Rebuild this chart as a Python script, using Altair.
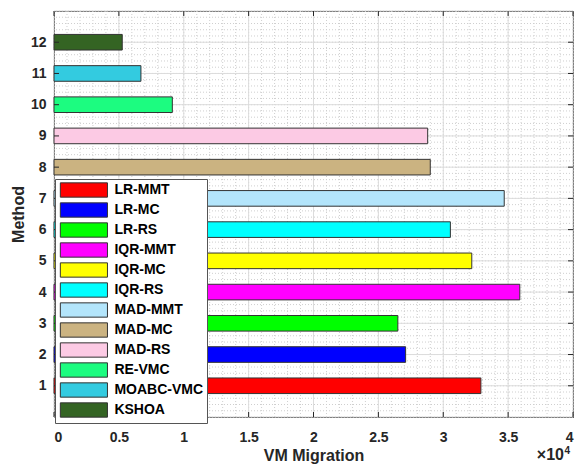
import altair as alt
import pandas as pd

# ---------------- data ----------------
methods = [1, 2, 3, 4, 5, 6, 7, 8, 9, 10, 11, 12]
names = ["LR-MMT", "LR-MC", "LR-RS", "IQR-MMT", "IQR-MC", "IQR-RS",
         "MAD-MMT", "MAD-MC", "MAD-RS", "RE-VMC", "MOABC-VMC", "KSHOA"]
values = [32900, 27100, 26500, 35900, 32200, 30550,
          34700, 29000, 28800, 9120, 6700, 5260]
colors = ["#ff0000", "#0000ff", "#00ff00", "#ff00ff", "#ffff00", "#00ffff",
          "#b3e5fb", "#cbb381", "#fccae4", "#1cfc80", "#33cbe0", "#346423"]

x_major = [0, 5000, 10000, 15000, 20000, 25000, 30000, 35000, 40000]
y_major = [0, 1, 2, 3, 4, 5, 6, 7, 8, 9, 10, 11, 12, 13]
x_minor = [i * 1000 for i in range(41)]
y_minor = [round(i * 0.2, 1) for i in range(66)]

df = pd.DataFrame({"method": methods, "name": names, "value": values})

# ---------------- style ----------------
W, H = 519, 406
FONT = "Liberation Sans"
INK = "#262626"

xscale = alt.Scale(domain=[0, 40000], nice=False, zero=True)
yscale = alt.Scale(domain=[0, 13], nice=False, zero=True)

X_AXIS = alt.Axis(
    values=x_major, labelExpr="datum.value / 10000",
    title="VM Migration", grid=False, ticks=False, tickSize=0, domain=False,
    labelFont=FONT, labelFontSize=14, labelFontWeight="bold", labelColor=INK,
    labelPadding=13, titleFont=FONT, titleFontSize=16, titleFontWeight="bold",
    titleColor=INK, titleBaseline="alphabetic", titleY=43)
Y_AXIS = alt.Axis(
    values=methods, format="d", title="Method", grid=False, ticks=False,
    tickSize=0, domain=False, labelFont=FONT, labelFontSize=14,
    labelFontWeight="bold", labelColor=INK, labelPadding=8,
    titleFont=FONT, titleFontSize=16, titleFontWeight="bold",
    titleColor=INK, titleBaseline="alphabetic", titleX=-31)


def X(field):
    return alt.X(field, scale=xscale, axis=X_AXIS)


def Y(field):
    return alt.Y(field, scale=yscale, axis=Y_AXIS)


minor_x = alt.Chart(pd.DataFrame({"v": x_minor})).mark_rule(
    color="#cfcfcf", strokeDash=[1, 2], strokeWidth=1
).encode(x=X("v:Q"))

minor_y = alt.Chart(pd.DataFrame({"v": y_minor})).mark_rule(
    color="#cfcfcf", strokeDash=[1, 2], strokeWidth=1
).encode(y=Y("v:Q"))

major_x = alt.Chart(pd.DataFrame({"v": x_major})).mark_rule(
    color="#dcdcdc", strokeWidth=1
).encode(x=X("v:Q"))

major_y = alt.Chart(pd.DataFrame({"v": y_major})).mark_rule(
    color="#dcdcdc", strokeWidth=1
).encode(y=Y("v:Q"))

bars = alt.Chart(df).transform_calculate(
    y0="datum.method - 0.25", y1="datum.method + 0.25", x0="0"
).mark_bar(stroke="#333333", strokeWidth=1, opacity=1).encode(
    x=X("value:Q"),
    x2="x0:Q",
    y=Y("y0:Q"),
    y2="y1:Q",
    color=alt.Color("name:N", scale=alt.Scale(domain=names, range=colors),
                    sort=names, legend=alt.Legend(
        title=None, orient="none", legendX=1, legendY=168,
        symbolType="M-3.3,-1L3.3,-1L3.3,1L-3.3,1Z", symbolSize=204,
        symbolStrokeColor="#333333", symbolStrokeWidth=1, symbolOpacity=1,
        symbolOffset=17.9, labelOffset=22.5,
        labelFont=FONT, labelFontSize=14, labelFontWeight="bold",
        labelColor="black", labelLimit=200,
        fillColor="white", strokeColor="#555555", padding=3, rowPadding=0)),
)

tick_top = alt.Chart(pd.DataFrame({"v": x_major})).mark_rule(color=INK).encode(
    x=X("v:Q"), y=alt.value(0), y2=alt.value(5))
tick_bottom = alt.Chart(pd.DataFrame({"v": x_major})).mark_rule(color=INK).encode(
    x=X("v:Q"), y=alt.value(H), y2=alt.value(H - 5))
tick_right = alt.Chart(pd.DataFrame({"v": methods})).mark_rule(color=INK).encode(
    y=Y("v:Q"), x=alt.value(W), x2=alt.value(W - 5))
tick_left = alt.Chart(pd.DataFrame({"v": methods})).mark_rule(color=INK).encode(
    y=Y("v:Q"), x=alt.value(0), x2=alt.value(5))

exp_base = alt.Chart(pd.DataFrame({"t": ["×10"]})).mark_text(
    align="right", baseline="alphabetic", font=FONT, fontSize=16,
    fontWeight="bold", color=INK
).encode(text="t:N", x=alt.value(510), y=alt.value(H + 43))
exp_pow = alt.Chart(pd.DataFrame({"t": ["4"]})).mark_text(
    align="left", baseline="alphabetic", font=FONT, fontSize=10,
    fontWeight="bold", color=INK
).encode(text="t:N", x=alt.value(510.5), y=alt.value(H + 37))

chart = alt.layer(
    minor_x, minor_y, major_x, major_y, bars,
    tick_top, tick_bottom, tick_right, tick_left, exp_base, exp_pow
).properties(
    width=W, height=H,
    autosize=alt.AutoSizeParams(type="none"),
    padding={"left": 46, "top": 3, "right": 2, "bottom": 47},
).configure_view(stroke=INK, strokeWidth=1)

chart.save("out.html", embed_options={"renderer": "svg", "actions": False})
